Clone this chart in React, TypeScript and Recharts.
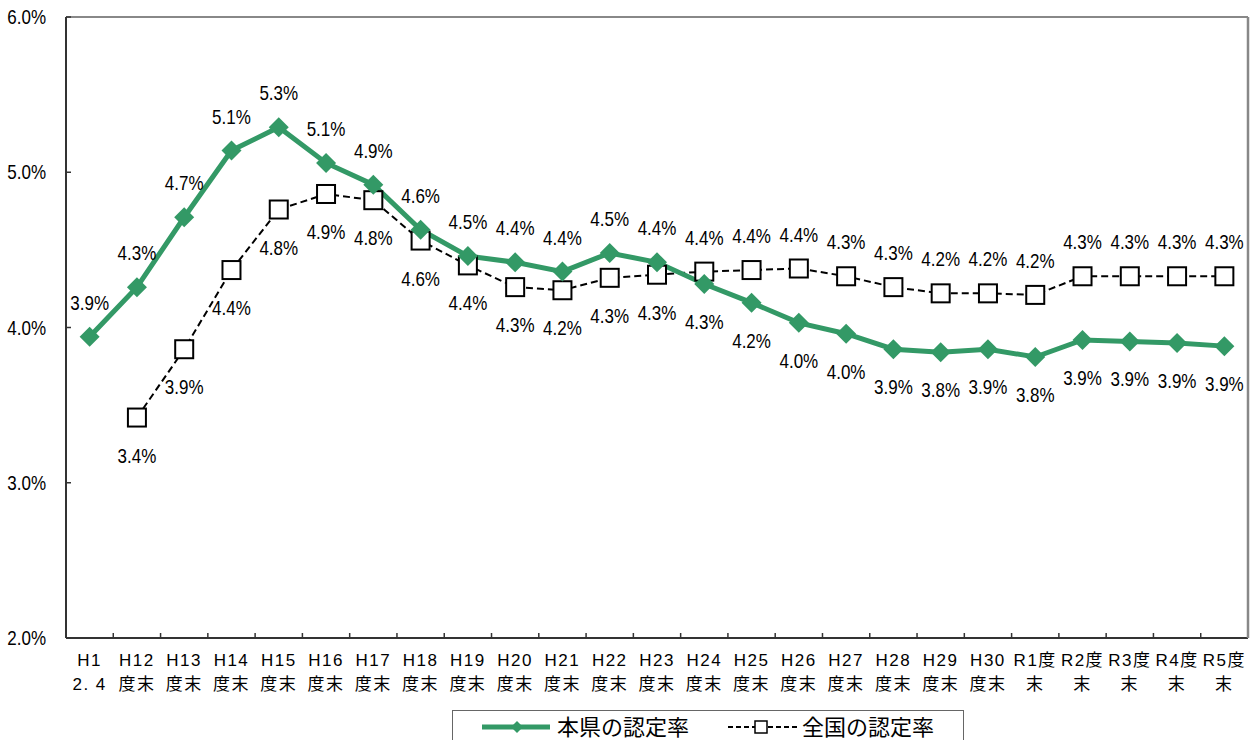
import { CartesianGrid, Legend, Line, LineChart, ReferenceLine, XAxis, YAxis } from "recharts"

// x axis labels, two rows
const xTop = [
  "H1", "H12", "H13", "H14", "H15", "H16", "H17", "H18", "H19", "H20", "H21", "H22", "H23",
  "H24", "H25", "H26", "H27", "H28", "H29", "H30", "R1度", "R2度", "R3度", "R4度", "R5度",
]
const xBottom = [
  "2. 4", "度末", "度末", "度末", "度末", "度末", "度末", "度末", "度末", "度末", "度末", "度末", "度末",
  "度末", "度末", "度末", "度末", "度末", "度末", "度末", "末", "末", "末", "末", "末",
]

// 本県の認定率 (%)
const prefRate = [
  3.94, 4.26, 4.71, 5.14, 5.29, 5.06, 4.92, 4.63, 4.46, 4.42, 4.36, 4.48, 4.42,
  4.28, 4.16, 4.03, 3.96, 3.86, 3.84, 3.86, 3.81, 3.92, 3.91, 3.9, 3.88,
]
// 全国の認定率 (%)
const nationalRate: (number | null)[] = [
  null, 3.42, 3.86, 4.37, 4.76, 4.86, 4.82, 4.56, 4.4, 4.26, 4.24, 4.32, 4.34,
  4.36, 4.37, 4.38, 4.33, 4.26, 4.22, 4.22, 4.21, 4.33, 4.33, 4.33, 4.33,
]

const yTicks = [2, 3, 4, 5, 6]
const seriesNames = ["本県の認定率", "全国の認定率"]

const chartData = xTop.map((t, i) => ({
  cat: t + xBottom[i],
  pref: prefRate[i],
  national: nationalRate[i],
}))

const W = 1255
const H = 740
const LEFT = 66
const RIGHT = 7
const HALF = (W - LEFT - RIGHT) / xTop.length / 2

const GREEN = "#339966"
const NUM_FONT = '"Liberation Sans", Arial, sans-serif'
const JP_FONT = '"Liberation Sans", "Noto Sans CJK JP", sans-serif'

const fmt = (v: number) => v.toFixed(1) + "%"

// narrow-looking number text (the original uses a condensed gothic)
function NarrowText({ x, y, anchor, children }: { x: number; y: number; anchor: "middle" | "end"; children: any }) {
  return (
    <text
      transform={`translate(${x},${y}) scale(0.85,1)`}
      textAnchor={anchor}
      fontSize={20}
      fontFamily={NUM_FONT}
      fill="#000"
    >
      {children}
    </text>
  )
}

function XTick(props: any) {
  const { x, y, index } = props
  return (
    <g>
      {index < xTop.length - 1 && (
        <line x1={x + HALF} x2={x + HALF} y1={y} y2={y - 5} stroke="#333" strokeWidth={1.5} />
      )}
      <text x={x} y={y + 28} textAnchor="middle" fontSize={17} letterSpacing={1.5} fontFamily={JP_FONT} fill="#000">
        {xTop[index]}
      </text>
      <text x={x} y={y + 52} textAnchor="middle" fontSize={17} letterSpacing={1.5} fontFamily={JP_FONT} fill="#000">
        {xBottom[index]}
      </text>
    </g>
  )
}

function YTick(props: any) {
  const { x, y, payload } = props
  return (
    <NarrowText x={x} y={y + 7} anchor="end">
      {fmt(payload.value)}
    </NarrowText>
  )
}

function makeLabel(own: (number | null)[], other: (number | null)[]) {
  return (props: any) => {
    const { x, y, index } = props
    const v = own[index]
    if (v == null || x == null) return <g key={"l" + index} />
    const o = other[index]
    const above = o == null || v >= o
    return (
      <g key={"l" + index}>
        <NarrowText x={x} y={above ? y - 27 : y + 45} anchor="middle">
          {fmt(v)}
        </NarrowText>
      </g>
    )
  }
}

function Diamond(props: any) {
  const { cx, cy, index } = props
  if (cx == null || cy == null) return <g key={"d" + index} />
  const r = 10
  return (
    <polygon
      key={"d" + index}
      points={`${cx},${cy - r} ${cx + r},${cy} ${cx},${cy + r} ${cx - r},${cy}`}
      fill={GREEN}
    />
  )
}

function Square(props: any) {
  const { cx, cy, index, value } = props
  if (cx == null || cy == null || value == null) return <g key={"s" + index} />
  return <rect key={"s" + index} x={cx - 9} y={cy - 9} width={18} height={18} fill="#fff" stroke="#000" strokeWidth={2} />
}

function LegendBox() {
  return (
    <svg width={512} height={40} style={{ display: "block" }}>
      <rect x={0.5} y={0.5} width={511} height={45} fill="#fff" stroke="#666" />
      <line x1={30} x2={98} y1={17} y2={17} stroke={GREEN} strokeWidth={5} />
      <polygon points="65,11 71,17 65,23 59,17" fill={GREEN} />
      <text x={105} y={25} fontSize={22} fontFamily={JP_FONT} fill="#000">{seriesNames[0]}</text>
      <line x1={276} x2={346} y1={17} y2={17} stroke="#000" strokeWidth={2} strokeDasharray="5 3" />
      <rect x={303} y={11} width={12} height={12} fill="#fff" stroke="#000" strokeWidth={1.5} />
      <text x={350} y={25} fontSize={22} fontFamily={JP_FONT} fill="#000">{seriesNames[1]}</text>
    </svg>
  )
}

export default function App() {
  return (
    <div style={{ position: "absolute", left: 0, top: 0, width: W, height: H, background: "#fff" }}>
      <LineChart width={W} height={H} data={chartData} margin={{ top: 17, right: 0, left: 0, bottom: 0 }}>
        <CartesianGrid vertical={false} stroke="#666" strokeDasharray="2 2" />
        <ReferenceLine yAxisId="left" y={6} stroke="#888" strokeWidth={2} />
        <XAxis
          dataKey="cat"
          height={62}
          padding={{ left: HALF, right: HALF }}
          tickLine={false}
          tickSize={0}
          tickMargin={0}
          interval={0}
          axisLine={{ stroke: "#333", strokeWidth: 2 }}
          tick={<XTick />}
        />
        <YAxis
          yAxisId="left"
          width={LEFT}
          domain={[2, 6]}
          ticks={yTicks}
          tickSize={-5}
          tickMargin={25}
          tickLine={{ stroke: "#333", strokeWidth: 1.5 }}
          axisLine={{ stroke: "#333", strokeWidth: 2 }}
          tick={<YTick />}
        />
        <YAxis
          yAxisId="right"
          orientation="right"
          width={RIGHT}
          domain={[2, 6]}
          tick={false}
          tickLine={false}
          axisLine={{ stroke: "#888", strokeWidth: 2.5 }}
        />
        <Legend
          content={<LegendBox />}
          wrapperStyle={{ position: "absolute", left: 452, top: 710, bottom: "auto", width: 512, height: 40 }}
        />
        <Line
          yAxisId="left"
          dataKey="national"
          name={seriesNames[1]}
          stroke="#000"
          strokeWidth={2}
          strokeDasharray="7 4"
          dot={Square}
          label={makeLabel(nationalRate, prefRate)}
          isAnimationActive={false}
        />
        <Line
          yAxisId="left"
          dataKey="pref"
          name={seriesNames[0]}
          stroke={GREEN}
          strokeWidth={5}
          dot={Diamond}
          label={makeLabel(prefRate, nationalRate)}
          isAnimationActive={false}
        />
      </LineChart>
    </div>
  )
}
